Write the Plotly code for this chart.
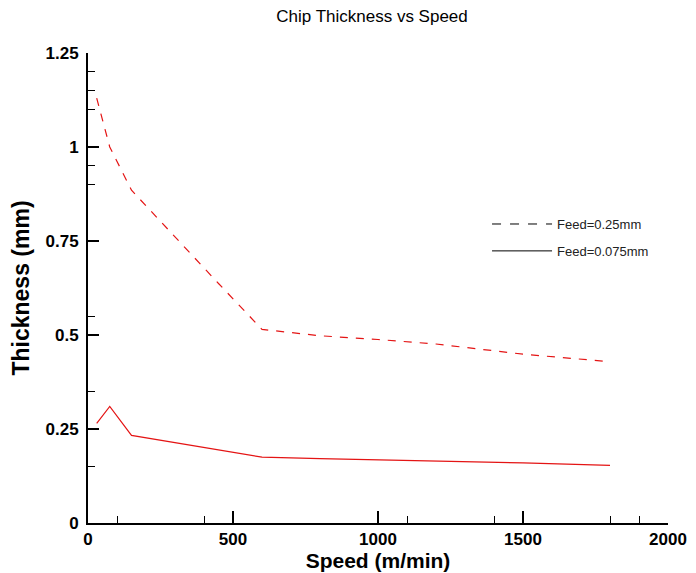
import plotly.graph_objects as go

# ---- data ----
speed = [30, 75, 150, 300, 450, 600, 800, 1000, 1200, 1500, 1800]
thick_feed_025 = [1.13, 1.0, 0.885, 0.76, 0.637, 0.515, 0.498, 0.488, 0.476, 0.449, 0.429]
thick_feed_0075 = [0.265, 0.31, 0.233, 0.213, 0.193, 0.175, 0.171, 0.168, 0.164, 0.16, 0.153]

series_names = ["Feed=0.25mm", "Feed=0.075mm"]

x_major = [0, 500, 1000, 1500, 2000]
x_minor = [100, 400, 1100, 1400, 1800, 1900]
y_major = [0, 0.25, 0.5, 0.75, 1, 1.25]
y_major_text = ["0", "0.25", "0.5", "0.75", "1", "1.25"]
y_minor = [0.15, 0.35, 0.55, 0.9, 0.95, 1.1, 1.15, 1.2]

RED = "rgb(228,20,20)"
FONT = "Liberation Sans, Arial, sans-serif"

fig = go.Figure()

# data traces (red)
fig.add_trace(go.Scatter(x=speed, y=thick_feed_025, mode="lines",
                         line=dict(color=RED, width=1.2, dash="8px,8px"),
                         showlegend=False))
fig.add_trace(go.Scatter(x=speed, y=thick_feed_0075, mode="lines",
                         line=dict(color=RED, width=1.2),
                         showlegend=False))

# legend entries (black samples as in the reference)
fig.add_trace(go.Scatter(x=[None], y=[None], mode="lines", name=series_names[0],
                         legendgroup="a",
                         line=dict(color="black", width=1, dash="9px,9px")))
fig.add_trace(go.Scatter(x=[None], y=[None], mode="lines", name=series_names[1],
                         legendgroup="b",
                         line=dict(color="black", width=1)))

fig.update_layout(
    width=696, height=573,
    paper_bgcolor="white", plot_bgcolor="white",
    margin=dict(l=80, r=36, t=45, b=58),
    font=dict(family=FONT, color="black"),
    title=dict(text="Chip Thickness vs Speed", x=0.523, xanchor="center",
               y=0.997, yanchor="top",
               font=dict(family=FONT, size=17, color="black")),
    legend=dict(x=0.688, y=0.668, xanchor="left", yanchor="top",
                bgcolor="rgba(0,0,0,0)", font=dict(family=FONT, size=13, color="#222"),
                tracegroupgap=7, itemwidth=60),
    xaxis=dict(range=[0, 2000], tickmode="array", tickvals=x_major,
               ticks="inside", ticklen=12, tickwidth=1.5, tickcolor="black",
               showline=True, linecolor="black", linewidth=2, showgrid=False,
               zeroline=False, automargin=False,
               minor=dict(tickmode="array", tickvals=x_minor, ticks="inside",
                          ticklen=7, tickwidth=1.2, tickcolor="black"),
               tickfont=dict(family=FONT, size=17, color="black", weight="bold"),
               title=dict(text="Speed (m/min)", standoff=0,
                          font=dict(family=FONT, size=21, color="black", weight="bold"))),
    yaxis=dict(range=[0, 1.25], tickmode="array", tickvals=y_major, ticktext=y_major_text,
               ticks="inside", ticklen=11, tickwidth=1.5, tickcolor="black",
               showline=True, linecolor="black", linewidth=2, showgrid=False,
               zeroline=False, automargin=False, ticklabelstandoff=4,
               minor=dict(tickmode="array", tickvals=y_minor, ticks="inside",
                          ticklen=7, tickwidth=1.2, tickcolor="black"),
               tickfont=dict(family=FONT, size=17, color="black", weight="bold"),
               title=dict(text="Thickness (mm)", standoff=11,
                          font=dict(family=FONT, size=23, color="black", weight="bold"))),
)

fig.write_html("out.html")
